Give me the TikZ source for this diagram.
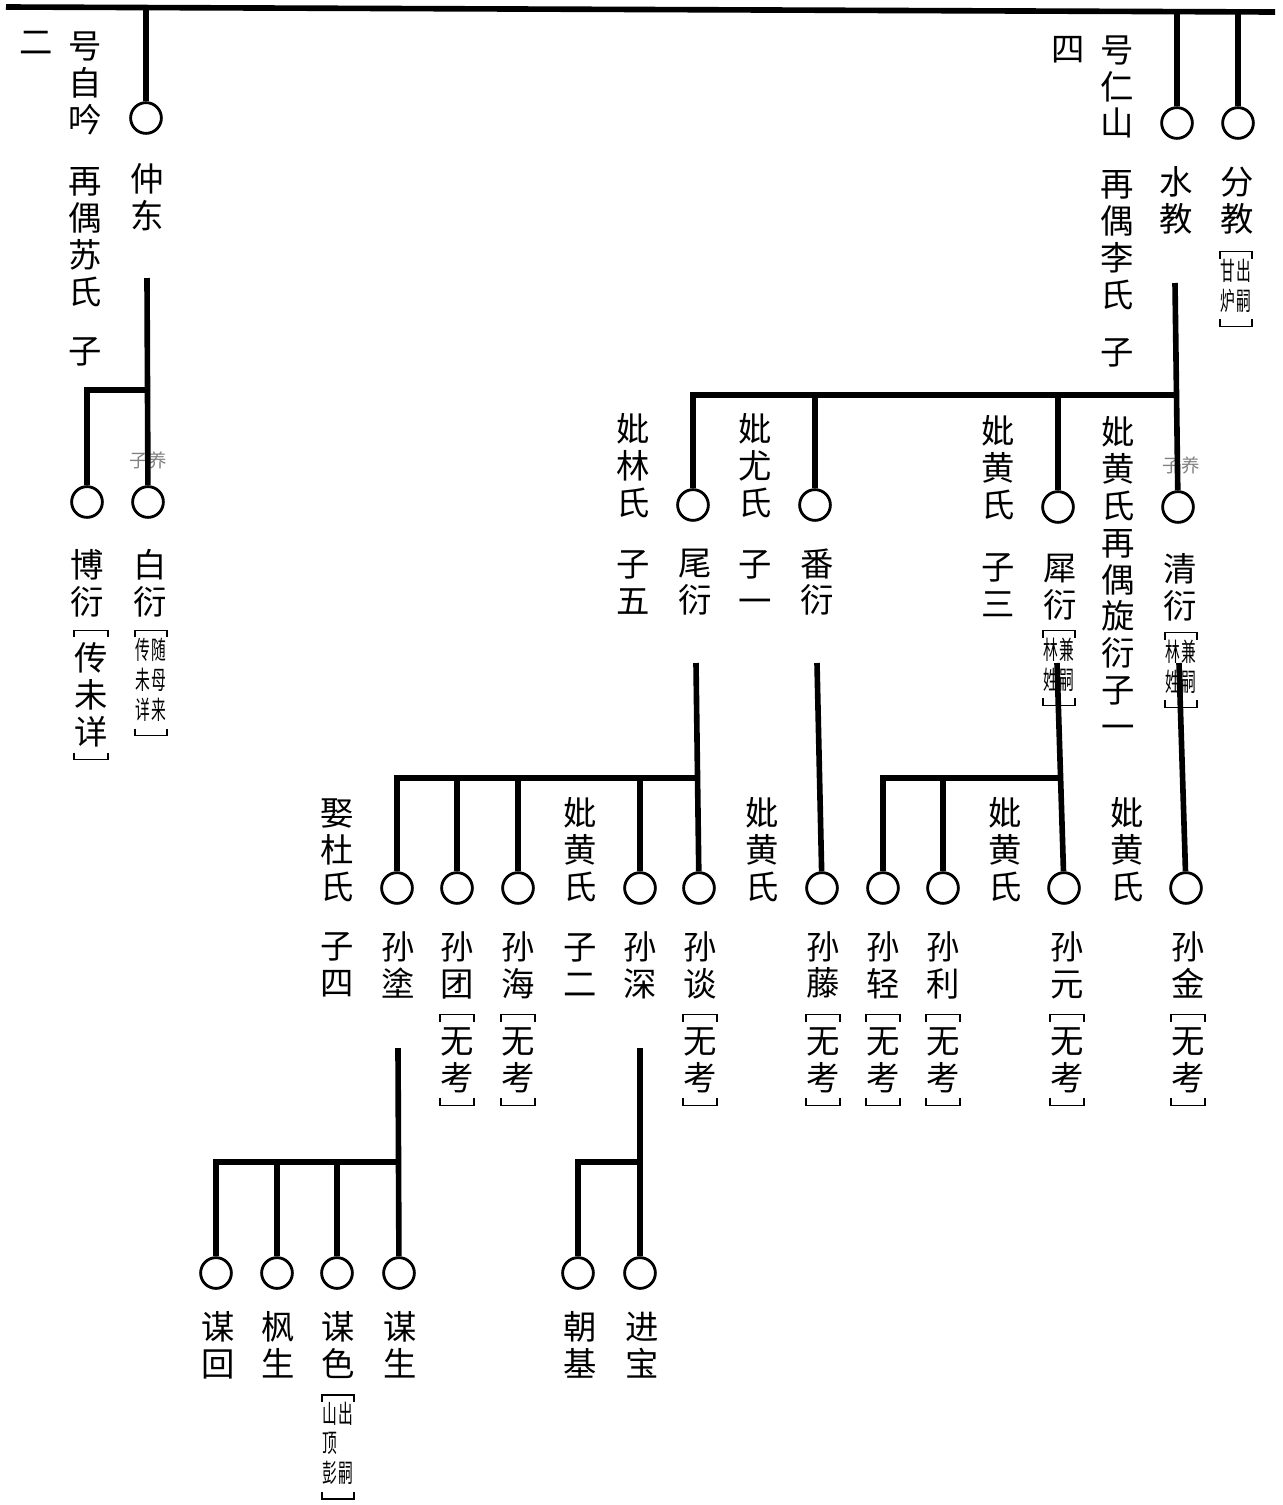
\documentclass[tikz,border=0pt]{standalone}
\usepackage{fontspec}
\usepackage{tikz}
\newfontfamily\cjk{Noto Sans CJK SC}
\newfontfamily\cjknota[FakeStretch=0.58]{Noto Sans CJK SC}
\newcommand{\corchete}[2][7pt]{%
	\draw[corch] ([yshift=#1-4pt]#2.north west) -- ([yshift=#1]#2.north west) -- ([yshift=#1]#2.north east) -- ([yshift=#1-4pt]#2.north east);
	\draw[corch] ([yshift=-#1+4pt]#2.south west) -- ([yshift=-#1]#2.south west) -- ([yshift=-#1]#2.south east) -- ([yshift=-#1+4pt]#2.south east);}

\begin{document}
\begin{tikzpicture}[x=0.02cm, y=-0.02cm,
			 vertice/.style={circle, draw, line width=1.6pt, minimum size=17.5pt, inner sep=0pt},
			 linea/.style={line width=3.2pt},
			 nombre/.style={font=\cjk\fontsize{19}{21}\selectfont, align=center, inner sep=0pt},
			 nota/.style={font=\cjknota\fontsize{14.5}{16.5}\selectfont, inner sep=0pt},
			 adop/.style={font=\cjk\fontsize{10.5}{11}\selectfont, text=black!50, inner sep=0pt},
			 corch/.style={line width=0.7pt}
  		]
	\useasboundingbox (0,0) rectangle (1282,1505);

	%Linea superior
		\coordinate (ini) at (6,7);
		\coordinate (fin) at (1275,12);

	%Primera generacion
		\node[vertice] (zhongdong) at (146,118) {};
		\node[vertice] (shuijiao) at (1177,123) {};
		\node[vertice] (fenjiao) at (1238,123) {};
		\node[nombre] (t-er) at (36,43) {二};
		\node[nombre] (t-hao1) at (85,83) {号\\自\\吟};
		\node[nombre] (t-ou1) at (85,237) {再\\偶\\苏\\氏};
		\node[nombre] (t-zi1) at (85,352) {子};
		\node[nombre] (t-zhongdong) at (147,197) {仲\\东};
		\node[nombre] (t-si) at (1068,50) {四};
		\node[nombre] (t-hao2) at (1117,87) {号\\仁\\山};
		\node[nombre] (t-ou2) at (1117,240) {再\\偶\\李\\氏};
		\node[nombre] (t-zi2) at (1117,353) {子};
		\node[nombre] (t-shuijiao) at (1176,200) {水\\教};
		\node[nombre] (t-fenjiao) at (1237,201) {分\\教};
		\node[nota] (n-fenjiao) at (1236,289) {\begin{tabular}{@{}c@{\hspace{1pt}}c@{}}甘&出\\炉&嗣\end{tabular}};
		\corchete[4pt]{n-fenjiao}

	%Segunda generacion
		\node[vertice] (boyan) at (87,502) {};
		\node[vertice] (baiyan) at (148,502) {};
		\node[adop] (a-baiyan) at (148,460) {子养};
		\node[nombre] (t-boyan) at (87,583) {博\\衍};
		\node[nombre] (n-boyan) at (91,695) {传\\未\\详};
		\corchete{n-boyan}
		\node[nombre] (t-baiyan) at (150,583) {白\\衍};
		\node[nota] (n-baiyan) at (151,683) {\begin{tabular}{@{}c@{\hspace{1pt}}c@{}}传&随\\未&母\\详&来\end{tabular}};
		\corchete[4pt]{n-baiyan}

		\node[vertice] (weiyan) at (693,505) {};
		\node[vertice] (fanyan) at (815,505) {};
		\node[vertice] (xiyan) at (1058,507) {};
		\node[vertice] (qingyan) at (1178,507) {};
		\node[adop] (a-qingyan) at (1181,465) {子养};
		\node[nombre] (t-bi1) at (633,466) {妣\\林\\氏};
		\node[nombre] (t-zi3) at (633,582) {子\\五};
		\node[nombre] (t-weiyan) at (695,582) {尾\\衍};
		\node[nombre] (t-bi2) at (755,466) {妣\\尤\\氏};
		\node[nombre] (t-zi4) at (755,582) {子\\一};
		\node[nombre] (t-fanyan) at (817,582) {番\\衍};
		\node[nombre] (t-bi3) at (998,468) {妣\\黄\\氏};
		\node[nombre] (t-zi5) at (998,585) {子\\三};
		\node[nombre] (t-xiyan) at (1060,587) {犀\\衍};
		\node[nota] (n-xiyan) at (1059,668) {\begin{tabular}{@{}c@{\hspace{1pt}}c@{}}林&兼\\姓&嗣\end{tabular}};
		\corchete[4pt]{n-xiyan}
		\node[nombre] (t-bi4) at (1118,578) {妣\\黄\\氏\\再\\偶\\旋\\衍\\子\\一};
		\node[nombre] (t-qingyan) at (1180,587) {清\\衍};
		\node[nota] (n-qingyan) at (1181,670) {\begin{tabular}{@{}c@{\hspace{1pt}}c@{}}林&兼\\姓&嗣\end{tabular}};
		\corchete[4pt]{n-qingyan}

	%Tercera generacion
		\node[vertice] (suntu) at (397,888) {};
		\node[vertice] (suntuan) at (457,888) {};
		\node[vertice] (sunhai) at (518,888) {};
		\node[vertice] (sunshen) at (640,888) {};
		\node[vertice] (suntan) at (699,888) {};
		\node[vertice] (sunteng) at (822,888) {};
		\node[vertice] (sunqing) at (883,888) {};
		\node[vertice] (sunli) at (943,888) {};
		\node[vertice] (sunyuan) at (1064,888) {};
		\node[vertice] (sunjin) at (1186,888) {};
		\node[nombre] (t-qu) at (337,850) {娶\\杜\\氏};
		\node[nombre] (t-zi6) at (337,965) {子\\四};
		\node[nombre] (t-suntu) at (398,965) {孙\\塗};
		\node[nombre] (t-suntuan) at (457,965) {孙\\团};
		\node[nombre] (n-suntuan) at (457,1060) {无\\考};
		\corchete{n-suntuan}
		\node[nombre] (t-sunhai) at (518,965) {孙\\海};
		\node[nombre] (n-sunhai) at (518,1060) {无\\考};
		\corchete{n-sunhai}
		\node[nombre] (t-bi5) at (580,850) {妣\\黄\\氏};
		\node[nombre] (t-zi7) at (580,965) {子\\二};
		\node[nombre] (t-sunshen) at (640,965) {孙\\深};
		\node[nombre] (t-suntan) at (700,965) {孙\\谈};
		\node[nombre] (n-suntan) at (700,1060) {无\\考};
		\corchete{n-suntan}
		\node[nombre] (t-bi6) at (762,850) {妣\\黄\\氏};
		\node[nombre] (t-sunteng) at (823,965) {孙\\藤};
		\node[nombre] (n-sunteng) at (823,1060) {无\\考};
		\corchete{n-sunteng}
		\node[nombre] (t-sunqing) at (883,965) {孙\\轻};
		\node[nombre] (n-sunqing) at (883,1060) {无\\考};
		\corchete{n-sunqing}
		\node[nombre] (t-sunli) at (943,965) {孙\\利};
		\node[nombre] (n-sunli) at (943,1060) {无\\考};
		\corchete{n-sunli}
		\node[nombre] (t-bi7) at (1005,850) {妣\\黄\\氏};
		\node[nombre] (t-sunyuan) at (1067,965) {孙\\元};
		\node[nombre] (n-sunyuan) at (1067,1060) {无\\考};
		\corchete{n-sunyuan}
		\node[nombre] (t-bi8) at (1127,850) {妣\\黄\\氏};
		\node[nombre] (t-sunjin) at (1188,965) {孙\\金};
		\node[nombre] (n-sunjin) at (1188,1060) {无\\考};
		\corchete{n-sunjin}

	%Cuarta generacion
		\node[vertice] (mouhui) at (216,1273) {};
		\node[vertice] (fengsheng) at (277,1273) {};
		\node[vertice] (mouse) at (337,1273) {};
		\node[vertice] (mousheng) at (399,1273) {};
		\node[vertice] (chaoji) at (578,1273) {};
		\node[vertice] (jinbao) at (640,1273) {};
		\node[nombre] (t-mouhui) at (218,1345) {谋\\回};
		\node[nombre] (t-fengsheng) at (278,1345) {枫\\生};
		\node[nombre] (t-mouse) at (338,1345) {谋\\色};
		\node[nota] (n-mouse) at (338,1447) {\begin{tabular}{@{}c@{\hspace{1pt}}c@{}}山&出\\顶&\\彭&嗣\end{tabular}};
		\corchete[4pt]{n-mouse}
		\node[nombre] (t-mousheng) at (400,1345) {谋\\生};
		\node[nombre] (t-chaoji) at (580,1345) {朝\\基};
		\node[nombre] (t-jinbao) at (642,1345) {进\\宝};

	%Aristas primera generacion
		\draw[linea] (ini) -- (fin);
		\draw[linea] (zhongdong |- ini) -- (zhongdong);
		\draw[linea] (shuijiao |- fin) -- (shuijiao);
		\draw[linea] (fenjiao |- fin) -- (fenjiao);
	%Hijos de zhongdong
		\coordinate (zd-b) at (147,278);
		\coordinate (zd-h) at (147,390);
		\draw[linea] (zd-b) -- (baiyan);
		\draw[linea] (zd-h) -| (boyan);
	%Hijos de shuijiao
		\coordinate (sj-b) at (1175,283);
		\coordinate (sj-h) at (1175,395);
		\draw[linea] (sj-b) -- (qingyan);
		\draw[linea] (sj-h) -| (weiyan);
		\draw[linea] (fanyan |- sj-h) -- (fanyan);
		\draw[linea] (xiyan |- sj-h) -- (xiyan);
	%Hijos de weiyan
		\coordinate (wy-b) at (696,663);
		\coordinate (wy-h) at (696,778);
		\draw[linea] (wy-b) -- (suntan);
		\draw[linea] (wy-h) -| (suntu);
		\draw[linea] (suntuan |- wy-h) -- (suntuan);
		\draw[linea] (sunhai |- wy-h) -- (sunhai);
		\draw[linea] (sunshen |- wy-h) -- (sunshen);
	%Hijo de fanyan
		\coordinate (fy-b) at (817,663);
		\draw[linea] (fy-b) -- (sunteng);
	%Hijos de xiyan
		\coordinate (xy-b) at (1057,663);
		\coordinate (xy-h) at (1060,778);
		\draw[linea] (xy-b) -- (sunyuan);
		\draw[linea] (xy-h) -| (sunqing);
		\draw[linea] (sunli |- xy-h) -- (sunli);
	%Hijo de qingyan
		\coordinate (qy-b) at (1179,663);
		\draw[linea] (qy-b) -- (sunjin);
	%Hijos de suntu
		\coordinate (tu-b) at (398,1048);
		\coordinate (tu-h) at (398,1162);
		\draw[linea] (tu-b) -- (mousheng);
		\draw[linea] (tu-h) -| (mouhui);
		\draw[linea] (fengsheng |- tu-h) -- (fengsheng);
		\draw[linea] (mouse |- tu-h) -- (mouse);
	%Hijos de sunshen
		\coordinate (sh-b) at (640,1048);
		\coordinate (sh-h) at (640,1162);
		\draw[linea] (sh-b) -- (jinbao);
		\draw[linea] (sh-h) -| (chaoji);
	\end{tikzpicture}
\end{document}
